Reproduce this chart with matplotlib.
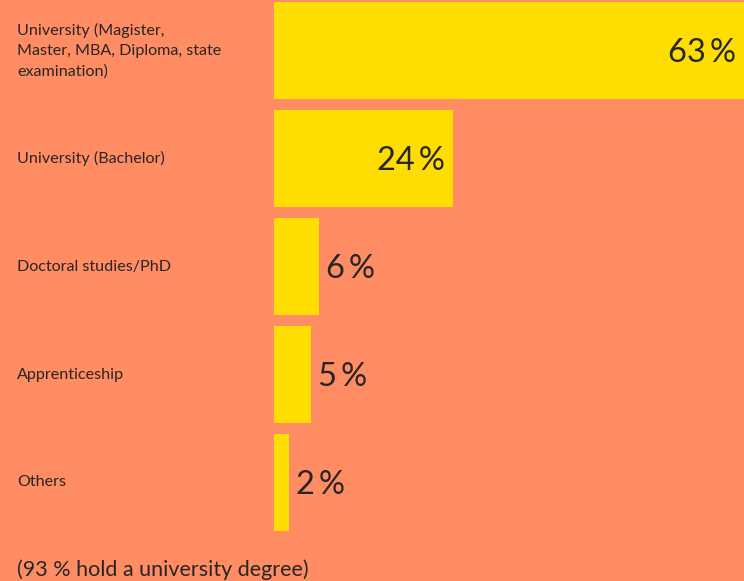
import matplotlib.pyplot as plt

categories = [
    "University (Magister,\nMaster, MBA, Diploma, state\nexamination)",
    "University (Bachelor)",
    "Doctoral studies/PhD",
    "Apprenticeship",
    "Others",
]
shares = [63, 24, 6, 5, 2]
footnote = "(93 % hold a university degree)"

bg = "#FF8C62"
bar_col = "#FFDD00"
txt = "#262626"

plt.rcParams['font.family'] = ['Lato', 'DejaVu Sans']

W, H = 744, 581
fig = plt.figure(figsize=(W / 100, H / 100), dpi=100)
fig.patch.set_facecolor(bg)

# axes placed in pixel terms: bars start at x=274, pitch 108 px
ax = fig.add_axes([274 / W, (H - 536.5) / H, 1 - 274 / W, 540 / H])
ax.set_facecolor(bg)
pos = list(range(len(shares)))
ax.barh(pos, shares, height=0.9, color=bar_col)
ax.set_xlim(0, 63)
ax.set_ylim(len(shares) - 0.5, -0.5)
ax.axis("off")

for p, v, name in zip(pos, shares, categories):
    lab = f"{v}\u2009%"
    if v > 10:
        ax.annotate(lab, (v, p), xytext=(-8, -2), textcoords="offset pixels",
                    ha="right", va="center", fontsize=23.5, color=txt)
    else:
        ax.annotate(lab, (v, p), xytext=(7, -2), textcoords="offset pixels",
                    ha="left", va="center", fontsize=23.5, color=txt)
    # category label on the left, in figure pixels
    y = (H - (50.5 + 108 * p)) / H
    fig.text(17 / W, y, name, ha="left", va="center", fontsize=11.6,
             color=txt, linespacing=1.55)

fig.text(17 / W, (H - 570) / H, footnote, ha="left", va="center",
         fontsize=15.5, color=txt)

fig.savefig("out.png", dpi=100, facecolor=bg)
